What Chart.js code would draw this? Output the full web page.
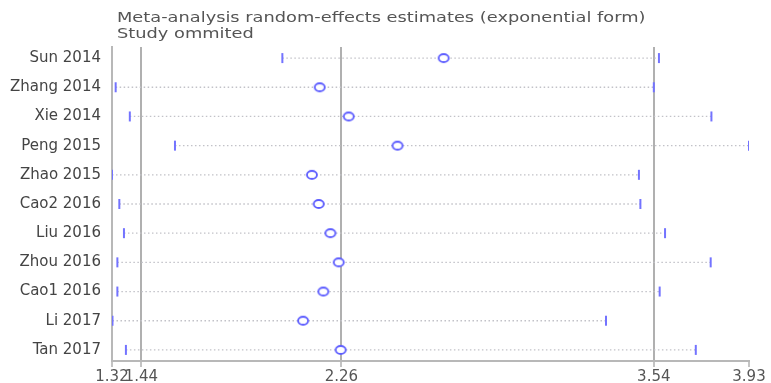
<!DOCTYPE html>
<html>
<head>
<meta charset="utf-8">
<script src="https://cdn.jsdelivr.net/npm/chart.js@4/dist/chart.umd.min.js"></script>
<style>
  html, body { margin: 0; padding: 0; background: #ffffff; }
  #wrap { width: 771px; height: 383px; }
</style>
</head>
<body>
<div id="wrap"><canvas id="c" width="771" height="383"></canvas></div>
<script>
// ---- data ----
const studies  = ['Sun 2014', 'Zhang 2014', 'Xie 2014', 'Peng 2015', 'Zhao 2015', 'Cao2 2016',
                  'Liu 2016', 'Zhou 2016', 'Cao1 2016', 'Li 2017', 'Tan 2017'];
const estimate = [2.679, 2.171, 2.290, 2.490, 2.139, 2.167, 2.215, 2.249, 2.186, 2.103, 2.257];
const lower    = [2.018, 1.335, 1.393, 1.578, 1.320, 1.350, 1.369, 1.342, 1.342, 1.322, 1.377];
const upper    = [3.561, 3.540, 3.776, 3.930, 3.479, 3.485, 3.586, 3.773, 3.564, 3.344, 3.712];
const xTickValues = [1.32, 1.44, 2.26, 3.54, 3.93];
const refLines    = [1.44, 2.26, 3.54];
const titleLines  = ['Meta-analysis random-effects estimates (exponential form)', 'Study ommited'];

const FONT = "'DejaVu Sans', 'Liberation Sans', Arial, sans-serif";
const markerBlue = '#7373ff';

// hollow, slightly wide ellipse marker (the reference markers are wider than tall)
function ellipseMarker() {
  const c = document.createElement('canvas');
  c.width = 14; c.height = 12;
  const g = c.getContext('2d');
  g.fillStyle = '#ffffff';
  g.strokeStyle = '#5c5cff';
  g.lineWidth = 1.8;
  g.beginPath();
  g.ellipse(7, 6, 5, 4, 0, 0, Math.PI * 2);
  g.fill();
  g.stroke();
  return c;
}

const datasets = [];
studies.forEach((s, i) => {
  datasets.push({
    type: 'line',
    data: [{x: lower[i], y: i + 1}, {x: upper[i], y: i + 1}],
    borderColor: '#c2c2c8',
    borderWidth: 1.3,
    borderDash: [1.5, 2.5],
    pointRadius: 0,
    order: 3
  });
});
datasets.push({
  type: 'scatter',
  data: studies.flatMap((s, i) => [{x: lower[i], y: i + 1}, {x: upper[i], y: i + 1}]),
  pointStyle: 'line',
  rotation: 90,
  radius: 5,
  borderColor: markerBlue,
  borderWidth: 2,
  order: 2
});
datasets.push({
  type: 'scatter',
  data: studies.map((s, i) => ({x: estimate[i], y: i + 1})),
  pointStyle: ellipseMarker(),
  radius: 5,
  order: 1
});

const titlePlugin = {
  id: 'leftTitle',
  afterDraw(chart) {
    const ctx = chart.ctx;
    const x0 = chart.chartArea.left + 5;
    ctx.save();
    ctx.fillStyle = '#555555';
    ctx.font = "13.7px " + FONT;
    ctx.textBaseline = 'middle';
    ctx.textAlign = 'left';
    ctx.translate(x0, 0);
    ctx.scale(1.3, 1);
    ctx.fillText(titleLines[0], 0, 18);
    ctx.fillText(titleLines[1], 0, 34);
    ctx.restore();
  }
};

new Chart(document.getElementById('c'), {
  type: 'scatter',
  data: { datasets },
  plugins: [titlePlugin],
  options: {
    responsive: false,
    animation: false,
    events: [],
    layout: { padding: { top: 47, right: 22, left: 0, bottom: 0 } },
    plugins: { legend: { display: false }, tooltip: { enabled: false }, title: { display: false } },
    scales: {
      x: {
        type: 'linear',
        min: xTickValues[0],
        max: xTickValues[xTickValues.length - 1],
        afterBuildTicks: (axis) => { axis.ticks = xTickValues.map(v => ({value: v})); },
        afterFit: (axis) => { axis.height = 22; },
        border: { display: true, color: '#b8b8b8', width: 2 },
        grid: {
          drawOnChartArea: true,
          drawTicks: true,
          tickLength: 6,
          lineWidth: 2,
          color: (c) => (c.tick && refLines.includes(c.tick.value)) ? '#b0b0b0' : 'rgba(0,0,0,0)',
          tickColor: '#b0b0b0',
          tickWidth: 1.5
        },
        ticks: {
          autoSkip: false,
          maxRotation: 0,
          padding: 1,
          color: '#555555',
          font: { family: FONT, size: 15 },
          callback: (v) => Number(v).toFixed(2)
        }
      },
      y: {
        type: 'linear',
        reverse: true,
        min: 0.62,
        max: 11.38,
        afterBuildTicks: (axis) => { axis.ticks = studies.map((s, i) => ({value: i + 1})); },
        afterFit: (axis) => { axis.width = 112; },
        border: { display: true, color: '#b8b8b8', width: 2 },
        grid: { display: false, drawTicks: false },
        ticks: {
          autoSkip: false,
          padding: 11,
          color: '#444444',
          font: { family: FONT, size: 15 },
          callback: (v) => studies[Math.round(v) - 1]
        }
      }
    }
  }
});
</script>
</body>
</html>
